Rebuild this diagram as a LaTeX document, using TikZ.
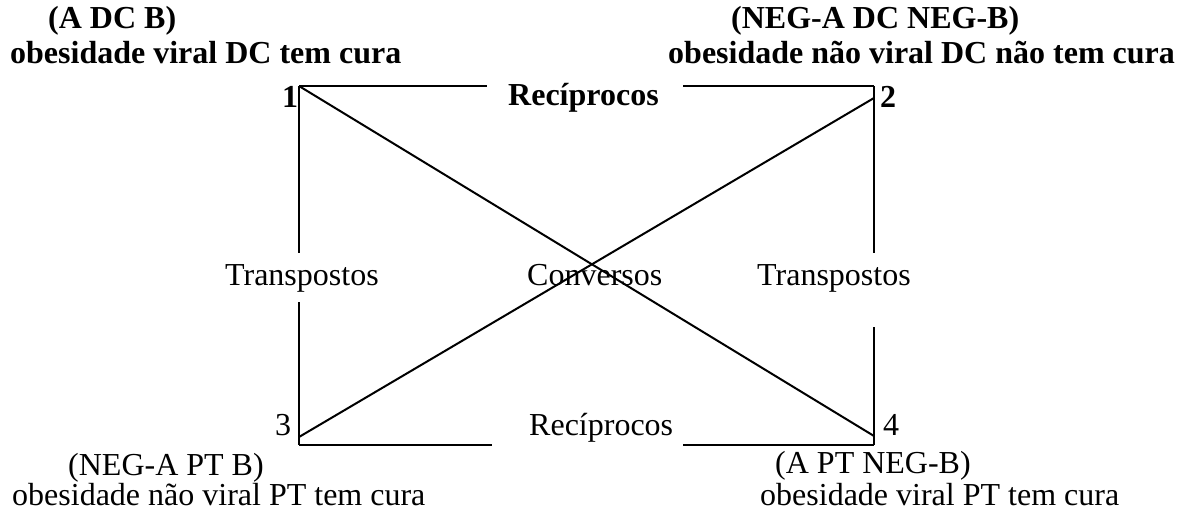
\documentclass[tikz,border=0pt]{standalone}
\usepackage{fontspec}
\setmainfont{Liberation Serif}
\begin{document}
\begin{tikzpicture}[x=1pt,y=-1pt,
    txt/.style={anchor=base west,inner sep=0pt,font=\fontsize{32}{38}\selectfont},
    btxt/.style={txt,font=\fontsize{32}{38}\selectfont\bfseries},
    edge/.style={line width=2pt}]
  \useasboundingbox (0,0) rectangle (1177,514);
  % cantos do quadrado
  \coordinate (c1) at (299,86);
  \coordinate (c2) at (874,86);
  \coordinate (c3) at (299,445);
  \coordinate (c4) at (874,445);
  % pontas das diagonais
  \coordinate (d1) at (874,436);
  \coordinate (d3) at (299,437);
  \coordinate (d2) at (874,98);
  % pontas dos lados interrompidos
  \coordinate (t1) at (487,86);   \coordinate (t2) at (683,86);
  \coordinate (b1) at (492,445);  \coordinate (b2) at (683,445);
  \coordinate (l1) at (299,253);  \coordinate (l2) at (299,302);
  \coordinate (r1) at (874,253);  \coordinate (r2) at (874,327);
  % textos de cima
  \node[btxt] (ab) at (48,28) {(A DC B)};
  \node[btxt] (abtxt) at (10,63) {obesidade viral DC tem cura};
  \node[btxt] (nanb) at (731,28) {(NEG-A DC NEG-B)};
  \node[btxt] (nanbtxt) at (668,63) {obesidade não viral DC não tem cura};
  \node[btxt] (n1) at (282,107) {1};
  \node[btxt] (n2) at (880,107) {2};
  \node[btxt] (recA) at (508,105) {Recíprocos};
  % textos do meio
  \node[txt] (traA) at (225,285) {Transpostos};
  \node[txt] (conv) at (527,285) {Conversos};
  \node[txt] (traB) at (757,285) {Transpostos};
  % textos de baixo
  \node[txt] (n3) at (275,435) {3};
  \node[txt] (n4) at (883,435) {4};
  \node[txt] (recB) at (529,435) {Recíprocos};
  \node[txt] (napb) at (68,475) {(NEG-A PT B)};
  \node[txt] (napbtxt) at (12,505) {obesidade não viral PT tem cura};
  \node[txt] (apnb) at (775,473) {(A PT NEG-B)};
  \node[txt] (apnbtxt) at (760,505) {obesidade viral PT tem cura};
  % lados
  \draw[edge] (c1) -- (t1);
  \draw[edge] (t2) -- (c2);
  \draw[edge] (c3) -- (b1);
  \draw[edge] (b2) -- (c4);
  \draw[edge] (c1) -- (l1);
  \draw[edge] (l2) -- (c3);
  \draw[edge] (c2) -- (r1);
  \draw[edge] (r2) -- (c4);
  % diagonais
  \draw[edge] (c1) -- (d1);
  \draw[edge] (d3) -- (d2);
\end{tikzpicture}
\end{document}
